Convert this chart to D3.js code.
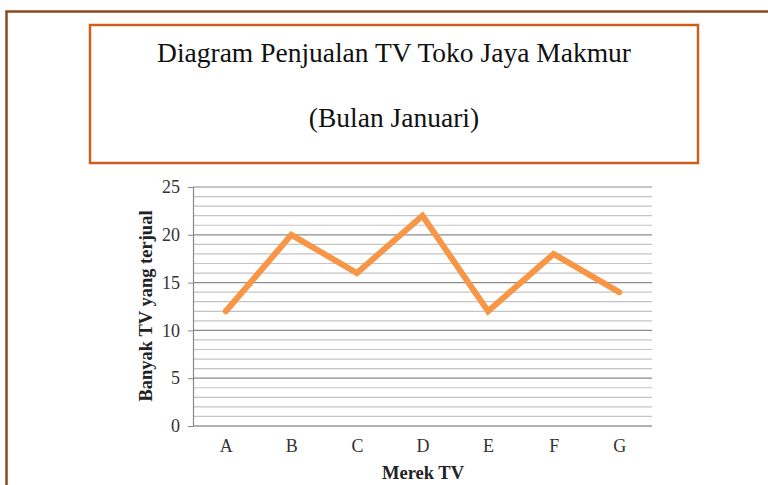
<!DOCTYPE html>
<html>
<head>
<meta charset="utf-8">
<script src="https://cdn.jsdelivr.net/npm/d3@7"></script>
<style>
  body { margin: 0; background: #fff; }
  text { font-family: "Liberation Serif", "Times New Roman", serif; }
</style>
</head>
<body>
<script>
// data
let brands = ["A", "B", "C", "D", "E", "F", "G"];
let sold = [12, 20, 16, 22, 12, 18, 14];
let yTicks = [0, 5, 10, 15, 20, 25];

let width = 768;
let height = 485;

// plot area
let plotLeft = 193, plotRight = 652, plotTop = 187, plotBottom = 426;

let svg = d3.select("body").append("svg")
  .attr("width", width)
  .attr("height", height);

// outer page frame
svg.append("path")
  .attr("d", "M6.5,485 L6.5,11.5 L768,11.5")
  .attr("fill", "none")
  .attr("stroke", "#8a4a1c")
  .attr("stroke-width", 2.5);

// title box
svg.append("rect")
  .attr("x", 90).attr("y", 25)
  .attr("width", 608).attr("height", 138)
  .attr("fill", "none")
  .attr("stroke", "#c9601f")
  .attr("stroke-width", 2.5);

svg.append("text")
  .attr("x", 394).attr("y", 62)
  .attr("text-anchor", "middle")
  .style("font-size", "27.5px")
  .attr("fill", "#111")
  .text("Diagram Penjualan TV Toko Jaya Makmur");

svg.append("text")
  .attr("x", 394).attr("y", 127)
  .attr("text-anchor", "middle")
  .style("font-size", "27.5px")
  .attr("fill", "#111")
  .text("(Bulan Januari)");

let x = d3.scalePoint()
  .domain(brands)
  .range([plotLeft, plotRight])
  .padding(0.5);

let y = d3.scaleLinear()
  .domain([0, 25])
  .range([plotBottom, plotTop]);

// minor and major gridlines
let minor = d3.range(1, 25).filter(v => v % 5 != 0);
svg.append("g").selectAll("line")
  .data(minor)
  .enter().append("line")
  .attr("x1", plotLeft).attr("x2", plotRight)
  .attr("y1", d => y(d)).attr("y2", d => y(d))
  .attr("stroke", "#c4c4c4")
  .attr("stroke-width", 1.2);

svg.append("g").selectAll("line")
  .data(yTicks.filter(v => v > 0))
  .enter().append("line")
  .attr("x1", plotLeft).attr("x2", plotRight)
  .attr("y1", d => y(d)).attr("y2", d => y(d))
  .attr("stroke", "#8c8c8c")
  .attr("stroke-width", 1.2);

// y axis
let yAxis = svg.append("g")
  .attr("transform", "translate(" + plotLeft + ",0)")
  .call(d3.axisLeft(y).tickValues(yTicks).tickSize(5).tickPadding(8));
yAxis.select(".domain").attr("stroke", "#888").attr("stroke-width", 1.2);
yAxis.selectAll(".tick line").attr("stroke", "#888");
yAxis.selectAll("text").style("font-size", "18px").attr("fill", "#333");

// x axis
let xAxis = svg.append("g")
  .attr("transform", "translate(0," + plotBottom + ")")
  .call(d3.axisBottom(x).tickSize(0).tickPadding(13));
xAxis.select(".domain").attr("d", "M" + plotLeft + ",0H" + plotRight).attr("stroke", "#999").attr("stroke-width", 1.5);
xAxis.selectAll("text").style("font-size", "18px").attr("fill", "#333");

// line
let line = d3.line()
  .x((d, i) => x(brands[i]))
  .y(d => y(d));

svg.append("path")
  .datum(sold)
  .attr("d", line)
  .attr("fill", "none")
  .attr("stroke", "#f79646")
  .attr("stroke-width", 6)
  .attr("stroke-linejoin", "miter")
  .attr("stroke-linecap", "round");

// axis titles
svg.append("text")
  .attr("transform", "translate(152,306) rotate(-90)")
  .attr("text-anchor", "middle")
  .style("font-size", "18.5px")
  .style("font-weight", "bold")
  .attr("fill", "#222")
  .text("Banyak TV yang terjual");

svg.append("text")
  .attr("x", 423).attr("y", 479)
  .attr("text-anchor", "middle")
  .style("font-size", "18.5px")
  .style("font-weight", "bold")
  .attr("fill", "#222")
  .text("Merek TV");
</script>
</body>
</html>
